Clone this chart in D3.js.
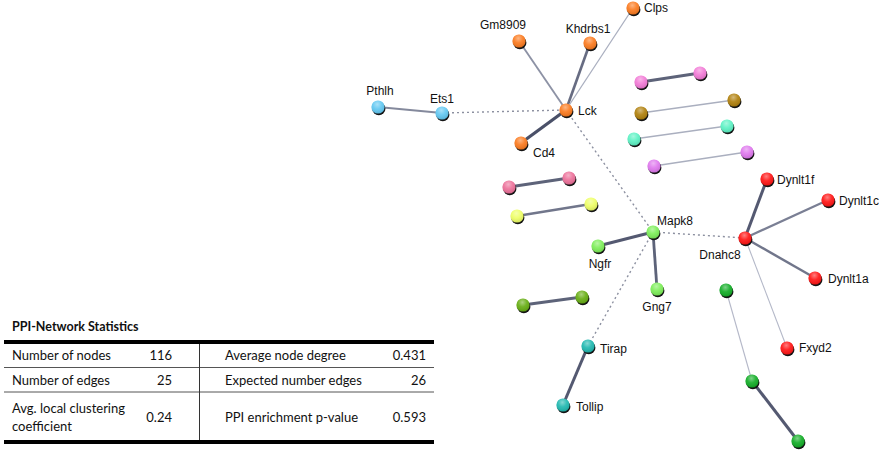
<!DOCTYPE html>
<html>
<head>
	<script src="https://cdnjs.cloudflare.com/ajax/libs/d3/7.8.2/d3.min.js"></script>
	<style>
		body {
			margin: 0 ;
			background: white ;
		}
		svg {
			display: block ;
		}
		.label {
			font-family: "Liberation Sans", Arial, sans-serif ;
			font-size: 12px ;
			fill: #111 ;
		}
		.stat {
			font-family: Lato, "Open Sans", sans-serif ;
			font-size: 13px ;
			fill: #111 ;
		}
	</style>
</head>
<body>
	<svg id="canvas"></svg>
</body>
<script>
	// network nodes: id, colour cluster, layout x, layout y
	let nodeIds = [ 'Clps', 'Gm8909', 'Khdrbs1', 'Lck', 'Cd4', 'Ets1', 'Pthlh',
		'p1', 'p2', 'b1', 'b2', 'a1', 'a2', 'v1', 'v2', 'r1', 'r2', 'y1', 'y2',
		'Mapk8', 'Ngfr', 'Gng7', 'Dnahc8', 'Dynlt1f', 'Dynlt1c', 'Dynlt1a', 'Fxyd2',
		'o1', 'o2', 'Tirap', 'Tollip', 'g1', 'g2', 'g3' ] ;
	let nodeCluster = [ 0, 0, 0, 0, 0, 1, 1,
		2, 2, 3, 3, 4, 4, 5, 5, 6, 6, 7, 7,
		8, 8, 8, 9, 9, 9, 9, 9,
		10, 10, 11, 11, 12, 12, 12 ] ;
	let nodeX = [ 633, 519, 590, 566, 521, 442, 378,
		641, 700, 641, 734, 634, 727, 654, 747, 509, 569, 517, 591,
		653, 598, 657, 745, 767, 828, 815, 787,
		523, 582, 588, 563, 726, 752, 798 ] ;
	let nodeY = [ 8, 41, 43, 110, 143, 113, 107,
		82, 73, 113, 100, 139, 126, 166, 152, 187, 178, 216, 204,
		232, 246, 289, 238, 179, 200, 278, 348,
		305, 297, 346, 405, 290, 381, 441 ] ;
	let labelled = [ 'Clps', 'Gm8909', 'Khdrbs1', 'Lck', 'Cd4', 'Ets1', 'Pthlh',
		'Mapk8', 'Ngfr', 'Gng7', 'Dnahc8', 'Dynlt1f', 'Dynlt1c', 'Dynlt1a', 'Fxyd2',
		'Tirap', 'Tollip' ] ;

	// interactions: source, target, combined score (0 = inter-cluster dashed)
	let edgeSource = [ 'Lck', 'Lck', 'Lck', 'Lck', 'Pthlh',
		'Ets1', 'Lck', 'Mapk8', 'Mapk8',
		'Mapk8', 'Mapk8', 'Dnahc8', 'Dnahc8', 'Dnahc8', 'Dnahc8', 'Tirap',
		'p1', 'b1', 'a1', 'v1', 'r1', 'y1', 'o1', 'g1', 'g2' ] ;
	let edgeTarget = [ 'Gm8909', 'Khdrbs1', 'Clps', 'Cd4', 'Ets1',
		'Lck', 'Mapk8', 'Dnahc8', 'Tirap',
		'Ngfr', 'Gng7', 'Dynlt1f', 'Dynlt1c', 'Dynlt1a', 'Fxyd2', 'Tollip',
		'p2', 'b2', 'a2', 'v2', 'r2', 'y2', 'o2', 'g2', 'g3' ] ;
	let edgeScore = [ 0.6, 0.8, 0.45, 0.95, 0.65,
		0, 0, 0, 0,
		0.9, 0.85, 0.9, 0.7, 0.75, 0.4, 0.9,
		0.85, 0.45, 0.45, 0.45, 0.85, 0.75, 0.85, 0.4, 0.9 ] ;

	// statistics table
	let statTitle = 'PPI-Network Statistics' ;
	let leftLabels = [ [ 'Number of nodes' ], [ 'Number of edges' ], [ 'Avg. local clustering', 'coefficient' ] ] ;
	let leftValues = [ '116', '25', '0.24' ] ;
	let rightLabels = [ 'Average node degree', 'Expected number edges', 'PPI enrichment p-value' ] ;
	let rightValues = [ '0.431', '26', '0.593' ] ;
</script>
<script>
	let geom = {
		width: 879,
		height: 450,
		r: 6.6
	} ;
	let svg = d3.select( 'svg' )
		.attr( 'width', geom.width )
		.attr( 'height', geom.height ) ;

	let scales = {
		x: d3.scaleLinear().domain( [0, 879] ).range( [0, geom.width] ),
		y: d3.scaleLinear().domain( [0, 450] ).range( [0, geom.height] ),
		colour: d3.scaleOrdinal()
			.domain( d3.range( 13 ) )
			.range( [ '#fb7a1e', '#62c8f2', '#f27ad6', '#b0800c', '#5cf2c4', '#df78ee',
				'#ec7099', '#eeff66', '#7cee58', '#ff1414', '#66ad12', '#1fb8b0', '#12ad26' ] ),
		width: d3.scaleLinear().domain( [0.4, 0.95] ).range( [1.1, 3.2] ),
		grey: d3.scaleLinear().domain( [0.4, 0.95] ).range( [ '#b4b8c8', '#4a5068' ] )
	} ;

	let nodes = nodeIds.map( (id, i) => ( {
		id: id, cluster: nodeCluster[i], x: scales.x( nodeX[i] ), y: scales.y( nodeY[i] )
	} ) ) ;
	let byId = new Map( nodes.map( n => [ n.id, n ] ) ) ;
	let edges = edgeSource.map( (s, i) => ( {
		source: byId.get( s ), target: byId.get( edgeTarget[i] ), score: edgeScore[i]
	} ) ) ;

	svg.append( 'g' ).attr( 'class', 'edges' )
		.selectAll( 'line' )
		.data( edges )
		.join( 'line' )
		.attr( 'x1', d => d.source.x )
		.attr( 'y1', d => d.source.y )
		.attr( 'x2', d => d.target.x )
		.attr( 'y2', d => d.target.y )
		.attr( 'stroke', d => d.score == 0 ? '#8c90a0' : scales.grey( d.score ) )
		.attr( 'stroke-width', d => d.score == 0 ? 1.4 : scales.width( d.score ) )
		.attr( 'stroke-dasharray', d => d.score == 0 ? '2,3' : null ) ;

	let defs = svg.append( 'defs' ) ;
	let grad = defs.append( 'radialGradient' )
		.attr( 'id', 'shine' )
		.attr( 'cx', '0.45' ).attr( 'cy', '0.3' ).attr( 'r', '0.7' ) ;
	grad.append( 'stop' ).attr( 'offset', '0' ).attr( 'stop-color', 'white' ).attr( 'stop-opacity', 0.45 ) ;
	grad.append( 'stop' ).attr( 'offset', '0.5' ).attr( 'stop-color', 'white' ).attr( 'stop-opacity', 0.08 ) ;
	grad.append( 'stop' ).attr( 'offset', '1' ).attr( 'stop-color', 'black' ).attr( 'stop-opacity', 0.12 ) ;

	let node = svg.append( 'g' ).attr( 'class', 'nodes' )
		.selectAll( 'g' )
		.data( nodes )
		.join( 'g' )
		.attr( 'transform', d => 'translate(' + d.x + ',' + d.y + ')' ) ;
	node.append( 'circle' )
		.attr( 'cx', 0.8 ).attr( 'cy', 1.7 ).attr( 'r', geom.r )
		.attr( 'fill', '#141414' ) ;
	node.append( 'circle' )
		.attr( 'r', geom.r )
		.attr( 'fill', d => scales.colour( d.cluster ) ) ;
	node.append( 'circle' )
		.attr( 'r', geom.r )
		.attr( 'fill', 'url(#shine)' ) ;

	// label placement relative to node: dx, dy, anchor
	let place = {
		Clps: [ 11, 4, 'start' ], Gm8909: [ -16, -12, 'middle' ], Khdrbs1: [ -2, -10, 'middle' ],
		Lck: [ 12, 5, 'start' ], Cd4: [ 12, 14, 'start' ], Ets1: [ 0, -10, 'middle' ],
		Pthlh: [ 2, -12, 'middle' ], Mapk8: [ 4, -7, 'start' ], Ngfr: [ 2, 22, 'middle' ],
		Gng7: [ 0, 22, 'middle' ], Dnahc8: [ -25, 21, 'middle' ], Dynlt1f: [ 10, 5, 'start' ],
		Dynlt1c: [ 11, 5, 'start' ], Dynlt1a: [ 13, 5, 'start' ], Fxyd2: [ 12, 4, 'start' ],
		Tirap: [ 12, 7, 'start' ], Tollip: [ 13, 6, 'start' ]
	} ;
	svg.append( 'g' ).attr( 'class', 'labels' )
		.selectAll( 'text' )
		.data( labelled.map( id => byId.get( id ) ) )
		.join( 'text' )
		.attr( 'class', 'label' )
		.attr( 'x', d => d.x + place[d.id][0] )
		.attr( 'y', d => d.y + place[d.id][1] )
		.attr( 'text-anchor', d => place[d.id][2] )
		.text( d => d.id ) ;

	// statistics table
	let table = {
		left: 4, right: 434, mid: 199.5,
		top: 342, bottom: 442,
		rows: [ 342, 367.5, 392, 442 ]
	} ;
	let tg = svg.append( 'g' ).attr( 'class', 'table' ) ;
	tg.append( 'text' )
		.attr( 'class', 'stat' )
		.attr( 'x', 12 ).attr( 'y', 331 )
		.style( 'font-weight', 'bold' )
		.style( 'font-size', '12.5px' )
		.text( statTitle ) ;
	tg.selectAll( 'line.sep' )
		.data( [ table.rows[1], table.rows[2] ] )
		.join( 'line' )
		.attr( 'class', 'sep' )
		.attr( 'x1', table.left ).attr( 'x2', table.right )
		.attr( 'y1', d => d ).attr( 'y2', d => d )
		.attr( 'stroke', '#555' ).attr( 'stroke-width', 1 ) ;
	tg.append( 'line' )
		.attr( 'x1', table.mid ).attr( 'x2', table.mid )
		.attr( 'y1', table.top ).attr( 'y2', table.bottom )
		.attr( 'stroke', '#333' ).attr( 'stroke-width', 1 ) ;
	tg.selectAll( 'line.rule' )
		.data( [ table.top, table.bottom ] )
		.join( 'line' )
		.attr( 'class', 'rule' )
		.attr( 'x1', table.left ).attr( 'x2', table.right )
		.attr( 'y1', d => d ).attr( 'y2', d => d )
		.attr( 'stroke', 'black' ).attr( 'stroke-width', 4 ) ;

	let rowMid = i => ( table.rows[i] + table.rows[i+1] ) / 2 ;
	leftLabels.forEach( (lines, i) => {
		let t = tg.append( 'text' )
			.attr( 'class', 'stat' )
			.attr( 'x', 12 )
			.attr( 'y', rowMid( i ) + 5 - ( lines.length - 1 ) * 9 ) ;
		lines.forEach( (l, j) => {
			t.append( 'tspan' )
				.attr( 'x', 12 )
				.attr( 'dy', j == 0 ? 0 : 18 )
				.text( l ) ;
		} ) ;
		tg.append( 'text' )
			.attr( 'class', 'stat' )
			.attr( 'x', 172 ).attr( 'y', rowMid( i ) + 5 )
			.attr( 'text-anchor', 'end' )
			.text( leftValues[i] ) ;
		tg.append( 'text' )
			.attr( 'class', 'stat' )
			.attr( 'x', 225 ).attr( 'y', rowMid( i ) + 5 )
			.text( rightLabels[i] ) ;
		tg.append( 'text' )
			.attr( 'class', 'stat' )
			.attr( 'x', 426 ).attr( 'y', rowMid( i ) + 5 )
			.attr( 'text-anchor', 'end' )
			.text( rightValues[i] ) ;
	} ) ;
</script>
</html>
